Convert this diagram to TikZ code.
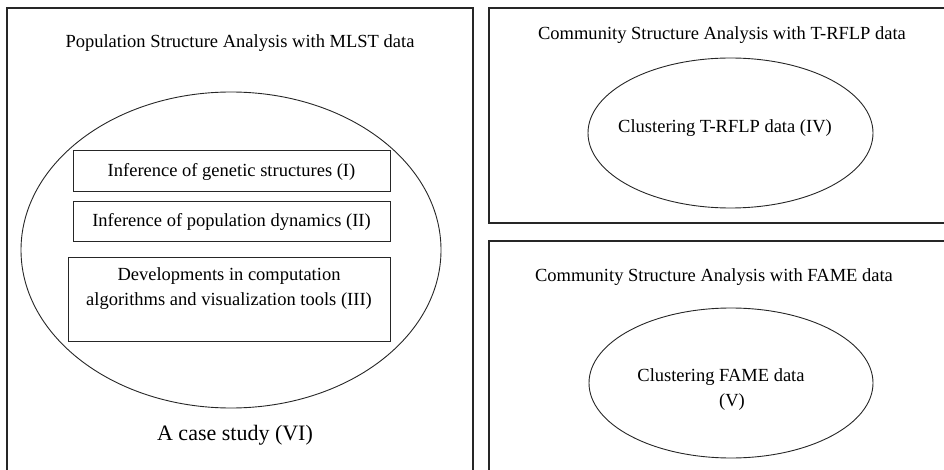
\documentclass[tikz,border=0pt]{standalone}
\usepackage{fontspec}
\setmainfont{Liberation Serif}
\usetikzlibrary{shapes.geometric}
\tikzstyle{panel}=[draw=black!85, line width=1.2pt]
\tikzstyle{heading}=[font=\fontsize{18.5}{22}\selectfont, inner sep=0pt]
\tikzstyle{oval}=[draw=black!85, ellipse, line width=0.9pt, inner sep=0pt]
\tikzstyle{topic}=[draw=black!85, line width=1pt, inner sep=0pt, align=center,
  font=\fontsize{18.5}{25}\selectfont]

\begin{document}
\begin{tikzpicture}[x=1pt, y=-1pt]
  \useasboundingbox (0,0) rectangle (944,470);
  % MLST panel
  \draw[panel] (7,8) rectangle (473,490);
  \node[heading] (mlst) at (240,43) {Population Structure Analysis with MLST data};
  \node[oval, minimum width=420pt, minimum height=316pt] (case) at (231,250) {};
  \node[topic, minimum width=317pt, minimum height=41pt] (genetic)
    at (231.5,171.5) {Inference of genetic structures (I)};
  \node[topic, minimum width=317pt, minimum height=40pt] (dynamics)
    at (231.5,222) {Inference of population dynamics (II)};
  \node[topic, minimum width=322pt, minimum height=84pt] (tools)
    at (229,299) {Developments in computation\\algorithms and visualization tools (III)\\~};
  \node[heading, font=\fontsize{22}{26}\selectfont] (study) at (235,435) {A case study (VI)};
  % T-RFLP panel
  \draw[panel] (489,8) rectangle (960,223);
  \node[heading] (trflp) at (722,35) {Community Structure Analysis with T-RFLP data};
  \node[oval, minimum width=285pt, minimum height=150pt] (trflpclu) at (730.5,133) {};
  \node[heading] (trflptext) at (725,128) {Clustering T-RFLP data (IV)};
  % FAME panel
  \draw[panel] (489,241) rectangle (960,490);
  \node[heading] (fame) at (714,277) {Community Structure Analysis with FAME data};
  \node[oval, minimum width=284pt, minimum height=150pt] (fameclu) at (731,383) {};
  \node[heading] (frametext) at (721,377) {Clustering FAME data};
  \node[heading] (frametag) at (732,402) {(V)};
\end{tikzpicture}
\end{document}
